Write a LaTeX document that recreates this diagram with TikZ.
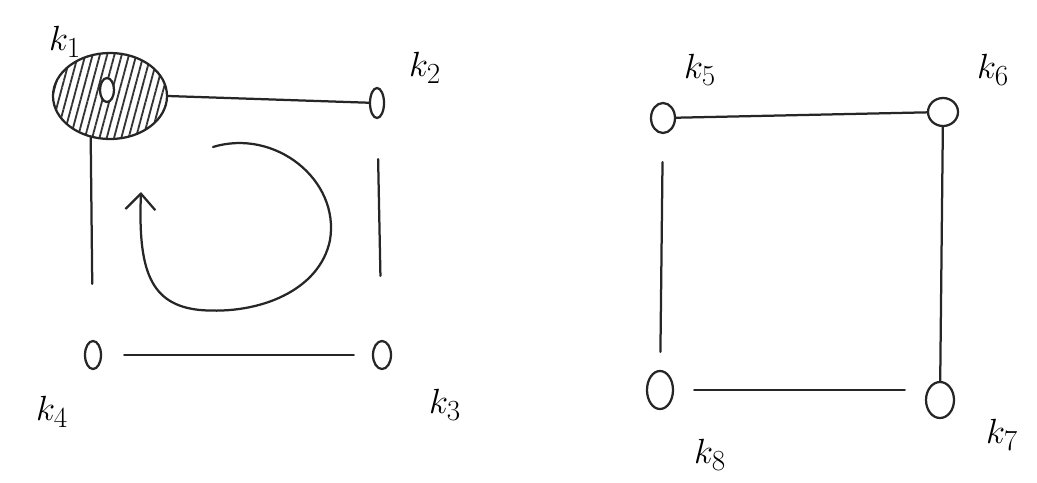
\documentclass[tikz,border=0pt]{standalone}
\usetikzlibrary{shapes.geometric,arrows.meta,patterns.meta}
\begin{document}
\begin{tikzpicture}[x=0.025cm,y=-0.025cm,
  ink/.style={line width=1.6pt,line cap=round,black!85},
  vtx/.style={ellipse,draw,ink,fill=white,inner sep=0pt},
  lbl/.style={font=\fontsize{32}{38}\selectfont,inner sep=0pt}]
\useasboundingbox (0,0) rectangle (1037,482);
% hatched ring around k1
\node[ellipse,draw,ink,minimum width=2.85cm,minimum height=2.15cm,
  pattern={Lines[angle=75,distance=5pt,line width=1.3pt]},pattern color=black!80] (ring) at (110,96) {};
% vertices
\node[vtx,minimum width=0.35cm,minimum height=0.6cm] (k1) at (107,90) {};
\node[vtx,minimum width=0.35cm,minimum height=0.75cm] (k2) at (377,103) {};
\node[vtx,minimum width=0.45cm,minimum height=0.7cm] (k3) at (382,355) {};
\node[vtx,minimum width=0.4cm,minimum height=0.7cm] (k4) at (93,355) {};
\node[vtx,minimum width=0.6cm,minimum height=0.75cm] (k5) at (663,118) {};
\node[vtx,minimum width=0.75cm,minimum height=0.7cm] (k6) at (943,112) {};
\node[vtx,minimum width=0.7cm,minimum height=0.9cm] (k7) at (940,400) {};
\node[vtx,minimum width=0.65cm,minimum height=0.95cm] (k8) at (660,390) {};
% labels
\node[lbl] (l1) at (65,42) {$k_1$};
\node[lbl] (l2) at (425,68) {$k_2$};
\node[lbl] (l3) at (445,405) {$k_3$};
\node[lbl] (l4) at (52,412) {$k_4$};
\node[lbl] (l5) at (700,70) {$k_5$};
\node[lbl] (l6) at (993,70) {$k_6$};
\node[lbl] (l7) at (1002,435) {$k_7$};
\node[lbl] (l8) at (710,455) {$k_8$};
% edges, left square
\draw[ink] (ring.east) -- (k2);
\draw[ink,shorten >=1.4cm] (ring.-115) -- (k4);
\draw[ink,shorten <=1.0cm,shorten >=1.6cm] (k2) -- (k3);
\draw[ink,shorten <=0.55cm,shorten >=0.45cm] (k4) -- (k3);
% edges, right square
\draw[ink] (k5) -- (k6);
\draw[ink,shorten <=0.7cm,shorten >=0.45cm] (k5) -- (k8);
\draw[ink] (k6) -- (k7);
\draw[ink,shorten <=0.5cm,shorten >=0.5cm] (k8.east) -- (k7.west |- k8.east);
% circular arrow
\coordinate (cs) at (213,147);
\coordinate (ce) at (141,192);
\draw[ink,-{Straight Barb[length=0.4cm,width=0.75cm,line width=1.6pt]}]
  (cs) .. controls (275,128) and (340,180) .. (330,240)
  .. controls (320,290) and (260,315) .. (200,310)
  .. controls (150,305) and (138,270) .. (ce);
\end{tikzpicture}
\end{document}
